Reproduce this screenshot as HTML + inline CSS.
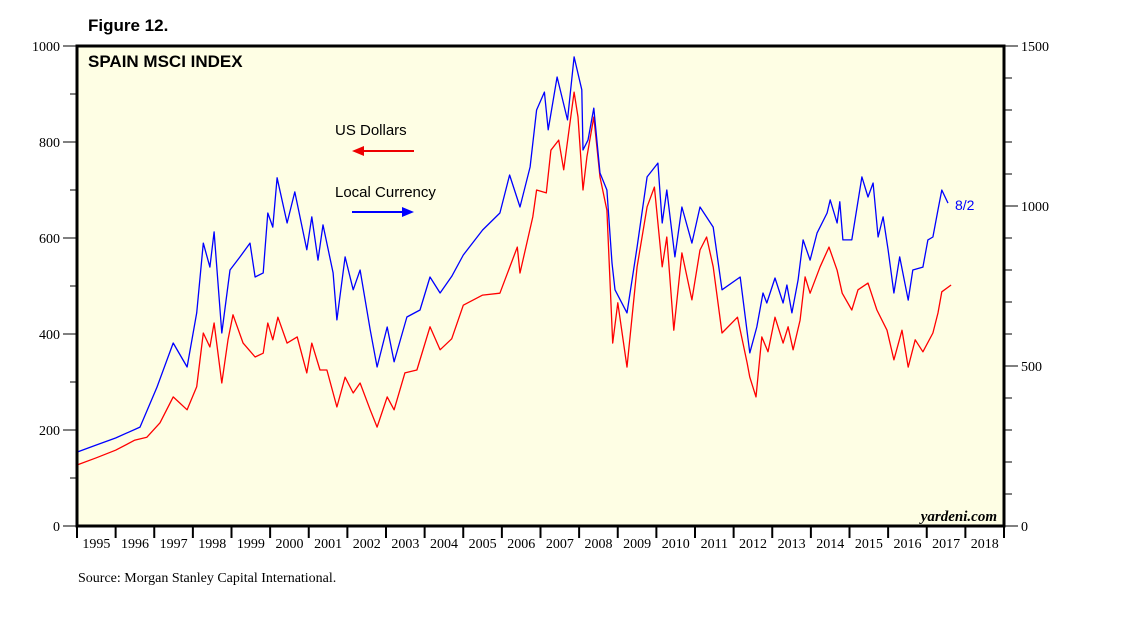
<!DOCTYPE html>
<html><head><meta charset="utf-8">
<style>
body{margin:0;background:#fff;width:1138px;height:621px;overflow:hidden;font-family:"Liberation Serif",serif;}
svg{position:absolute;left:0;top:0}
</style></head>
<body>
<svg width="1138" height="621">
<text x="88" y="31" font-family="Liberation Sans, sans-serif" font-weight="bold" font-size="17">Figure 12.</text>
<rect x="77" y="46" width="927" height="480" fill="#fefee4"/>
<g id="axes"></g>
<g id="series"></g>
<rect x="77" y="46" width="927" height="480" fill="none" stroke="#000" stroke-width="3"/>
<text x="88" y="67" font-family="Liberation Sans, sans-serif" font-weight="bold" font-size="17">SPAIN MSCI INDEX</text>
<text x="335" y="135" font-family="Liberation Sans, sans-serif" font-size="15">US Dollars</text>
<line x1="360" y1="151" x2="414" y2="151" stroke="#e00" stroke-width="2"/>
<polygon points="352,151 364,146 364,156" fill="#e00"/>
<text x="335" y="197" font-family="Liberation Sans, sans-serif" font-size="15">Local Currency</text>
<line x1="352" y1="212" x2="406" y2="212" stroke="#00f" stroke-width="2"/>
<polygon points="414,212 402,207 402,217" fill="#00f"/>
<text x="955" y="210" font-family="Liberation Sans, sans-serif" font-size="14" fill="#00f">8/2</text>
<text x="997" y="521" text-anchor="end" font-style="italic" font-weight="bold" font-size="15">yardeni.com</text>
<text x="78" y="582" font-size="14">Source: Morgan Stanley Capital International.</text>
</svg>
<script>
const years=[1995,1996,1997,1998,1999,2000,2001,2002,2003,2004,2005,2006,2007,2008,2009,2010,2011,2012,2013,2014,2015,2016,2017,2018];
const leftTicks=[0,200,400,600,800,1000];
const rightTicks=[0,500,1000,1500];
const blueDates=[1995.0,1995.5,1996.0,1996.63,1997.07,1997.49,1997.85,1998.1,1998.27,1998.44,1998.55,1998.75,1998.96,1999.22,1999.48,1999.61,1999.82,1999.94,2000.07,2000.18,2000.44,2000.64,2000.95,2001.08,2001.24,2001.37,2001.63,2001.73,2001.94,2002.15,2002.33,2002.59,2002.77,2003.03,2003.21,2003.54,2003.88,2004.14,2004.4,2004.7,2005.0,2005.5,2005.95,2006.2,2006.47,2006.73,2006.9,2007.1,2007.2,2007.43,2007.7,2007.87,2008.07,2008.1,2008.23,2008.38,2008.54,2008.72,2008.85,2008.93,2009.24,2009.5,2009.76,2010.04,2010.15,2010.27,2010.48,2010.66,2010.92,2011.13,2011.47,2011.7,2012.17,2012.42,2012.6,2012.76,2012.86,2013.07,2013.28,2013.38,2013.51,2013.67,2013.8,2013.98,2014.16,2014.42,2014.5,2014.68,2014.75,2014.83,2015.06,2015.32,2015.48,2015.61,2015.74,2015.87,2016.0,2016.15,2016.3,2016.52,2016.64,2016.9,2017.03,2017.16,2017.29,2017.39,2017.55];
const blueValues=[231,253,275,309,434,572,497,666,884,809,919,603,800,841,884,778,791,978,934,1088,947,1044,863,966,831,941,791,644,841,738,800,613,497,622,513,653,675,778,728,780,847,925,978,1097,997,1122,1300,1356,1238,1403,1269,1466,1363,1175,1206,1306,1103,1050,822,738,666,872,1091,1134,947,1050,841,997,884,997,934,738,778,541,622,728,697,775,697,753,666,769,894,831,916,978,1019,947,1013,894,894,1091,1028,1072,903,966,863,728,841,706,800,809,894,903,988,1050,1009];
const redDates=[1995.0,1995.5,1996.0,1996.5,1996.81,1997.15,1997.49,1997.85,1998.1,1998.27,1998.44,1998.55,1998.75,1998.91,1999.04,1999.3,1999.61,1999.82,1999.94,2000.07,2000.2,2000.44,2000.7,2000.95,2001.08,2001.29,2001.47,2001.73,2001.94,2002.15,2002.33,2002.59,2002.77,2003.03,2003.21,2003.49,2003.8,2004.14,2004.4,2004.7,2005.0,2005.5,2005.95,2006.4,2006.47,2006.8,2006.9,2007.15,2007.27,2007.47,2007.6,2007.87,2007.97,2008.1,2008.2,2008.38,2008.54,2008.72,2008.87,2009.0,2009.24,2009.5,2009.76,2009.95,2010.15,2010.27,2010.45,2010.66,2010.92,2011.13,2011.3,2011.47,2011.7,2012.1,2012.35,2012.42,2012.58,2012.73,2012.89,2013.07,2013.28,2013.41,2013.54,2013.72,2013.85,2013.98,2014.24,2014.47,2014.68,2014.81,2015.06,2015.22,2015.48,2015.71,2015.97,2016.15,2016.36,2016.52,2016.7,2016.9,2017.16,2017.29,2017.39,2017.63];
const redValues=[127,142,158,179,185,215,269,242,290,402,373,423,298,388,440,381,352,360,423,388,435,381,394,319,381,325,325,248,310,277,298,242,206,269,242,319,325,415,367,390,460,481,485,581,527,644,700,694,783,804,742,904,852,700,769,852,727,658,381,465,331,540,665,706,540,602,408,569,471,575,602,540,402,435,340,310,269,394,363,435,381,415,367,429,519,485,540,581,533,485,450,492,506,450,408,346,408,331,388,363,402,444,488,502];

const NS="http://www.w3.org/2000/svg";
const X0=77,X1=1004,Y0=526,Y1=46;
const xs=t=>X0+(t-1995)/24*(X1-X0);
const yl=v=>Y0-v/1000*(Y0-Y1);
const yr=v=>Y0-v/1500*(Y0-Y1);
const axes=document.getElementById('axes'), series=document.getElementById('series');
function mk(tag,attrs,parent){const e=document.createElementNS(NS,tag);for(const k in attrs)e.setAttribute(k,attrs[k]);parent.appendChild(e);return e;}
for(let v=0;v<=1000;v+=100){const major=v%200===0;
 const l=mk('line',{x1:major?63:70,x2:77,y1:yl(v),y2:yl(v),stroke:'#000','stroke-width':1},axes);
 
 }
leftTicks.forEach(v=>{const t=mk('text',{x:60,y:yl(v)+5,'text-anchor':'end','font-size':14},axes);t.textContent=v;
 
 });
for(let v=0;v<=1500;v+=100){const major=v%500===0;
 const l=mk('line',{x1:1004,x2:major?1018:1012,y1:yr(v),y2:yr(v),stroke:'#000','stroke-width':1},axes);
 
 }
rightTicks.forEach(v=>{const t=mk('text',{x:1021,y:yr(v)+5,'font-size':14},axes);t.textContent=v;
 
 });
years.forEach(y=>{const x=xs(y);
 const l=mk('line',{x1:x,x2:x,y1:526,y2:538,stroke:'#000','stroke-width':2},axes);
 
 
 const t=mk('text',{x:xs(y+0.5),y:548,'text-anchor':'middle','font-size':14},axes);t.textContent=y;
 
 });
{const l=mk('line',{x1:X1,x2:X1,y1:526,y2:538,stroke:'#000','stroke-width':2},axes);
 
 }
const red=mk('polyline',{points:redDates.map((d,i)=>xs(d).toFixed(1)+','+yl(redValues[i]).toFixed(1)).join(' '),fill:'none',stroke:'#f00','stroke-width':1.3,'stroke-linejoin':'round'},series);


const blue=mk('polyline',{points:blueDates.map((d,i)=>xs(d).toFixed(1)+','+yr(blueValues[i]).toFixed(1)).join(' '),fill:'none',stroke:'#00f','stroke-width':1.3,'stroke-linejoin':'round'},series);


</script>
</body></html>
